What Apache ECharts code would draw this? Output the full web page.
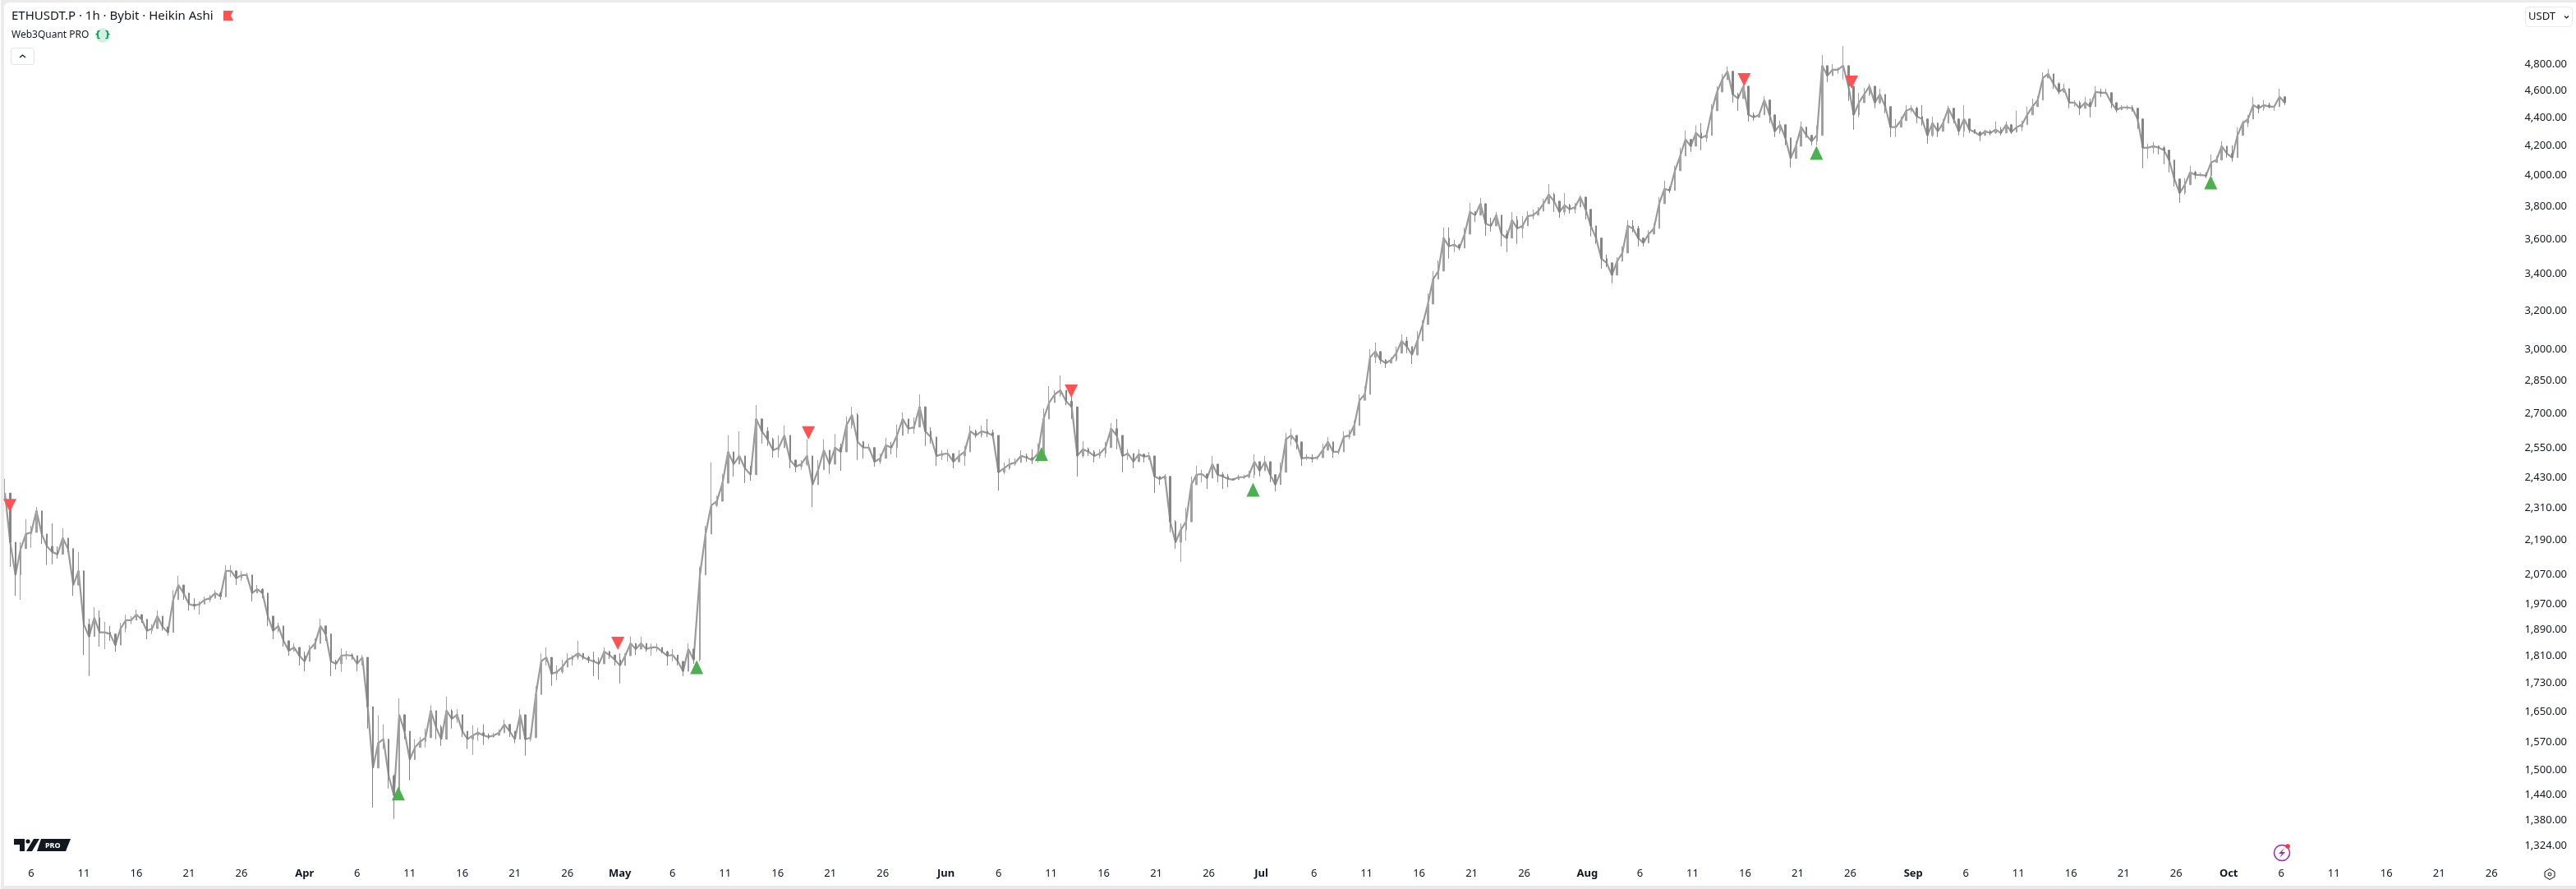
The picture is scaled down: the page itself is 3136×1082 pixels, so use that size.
<!DOCTYPE html>
<html><head><meta charset="utf-8"><title>ETHUSDT.P</title>
<style>html,body{margin:0;padding:0;background:#ebebeb}#c{width:3136px;height:1082px}</style>
<script src="https://cdn.jsdelivr.net/npm/echarts@6/dist/echarts.min.js"></script></head>
<body><div id="c"></div>
<script>
const closes1=[2352,2167,2052,2144,2197,2203,2283,2197,2152,2132,2124,2182,2144,2018,2066,1890,1852,1911,1865,1865,1860,1826,1877,1903,1903,1921,1906,1870,1877,1916,1882,1865,1969,2018,1991,1955,1950,1955,1969,1974,1991,1980,2066,2066,2041,2052,2052,1991,2004,1991,1916,1870,1885,1839,1809,1819,1794,1777,1814,1831,1885,1860,
1777,1770,1794,1796,1794,1770,1789,1648,1488,1551,1561,1468,1422,1626,1582,1509,1540,1555,1565,1637,1593,1561,1637,1615,1626,1582,1561,1571,1578,1571,1567,1571,1578,1600,1582,1561,1626,1561,1565,1682,1777,1789,1741,1746,1760,1782,1789,1801,1789,1782,1777,1770,1806,1796,1782,1765,1794,1831,1814,1831,1814,1819,1819,1806,1794,1796,1777,1748,1814,1782];
const highs1=[2408,2352,2092,2167,2252,2227,2298,2258,2197,2236,2152,2218,2173,2089,2132,1977,1908,1945,1934,1898,1885,1852,1895,1921,1916,1937,1916,1895,1890,1934,1898,1880,2001,2049,2010,1974,1974,1964,1980,1985,2001,1996,2086,2086,2060,2066,2060,2018,2018,2007,1974,1890,1895,1865,1826,1831,1814,1806,1826,1847,1908,1885,
1826,1782,1816,1809,1801,1794,1796,1724,1561,1624,1600,1513,1472,1671,1611,1534,1561,1567,1589,1652,1611,1598,1676,1641,1641,1604,1576,1598,1591,1600,1576,1578,1587,1613,1600,1571,1641,1620,1576,1706,1801,1819,1760,1765,1782,1801,1796,1839,1796,1794,1806,1789,1819,1809,1796,1801,1801,1852,1831,1852,1821,1831,1831,1814,1809,1814,1789,1765,1831,1806];
const lows1=[2330,2080,1982,1969,2161,2147,2242,2161,2086,2089,2109,2144,2132,1982,2024,1796,1734,1865,1821,1814,1839,1806,1852,1865,1890,1903,1895,1844,1860,1885,1870,1855,1921,1991,1969,1934,1937,1921,1955,1961,1974,1969,1977,2046,2018,2032,2038,1964,1991,1974,1885,1844,1865,1821,1794,1806,1765,1748,1789,1821,1834,1839,
1734,1753,1746,1782,1782,1748,1765,1589,1393,1509,1536,1438,1367,1478,1561,1458,1519,1540,1540,1611,1561,1544,1598,1589,1604,1567,1536,1521,1557,1546,1561,1565,1571,1587,1567,1551,1567,1519,1555,1620,1741,1765,1706,1722,1741,1765,1765,1782,1782,1772,1734,1724,1784,1784,1765,1713,1782,1809,1796,1814,1806,1794,1806,1801,1765,1777,1765,1734,1801,1770];
const closes2=[2052,2197,2304,2320,2391,2519,2468,2502,2451,2425,2661,2607,2572,2526,2537,2589,2485,2458,2468,2502,2385,2445,2526,2468,2537,2519,2632,2679,2561,2537,2537,2478,2492,2547,2537,2589,2661,2618,2625,2715,2607,2582,2502,2509,2512,2478,2502,2519,2607,2589,2607,2600,2589,2435,2451,2468,2475,2502,2495,2485,2512,2661,2734,2772,2791,2741,2715,2502,2530,2519,2502,2512,2537,2618,2589,2502,2512];
const highs2=[2080,2227,2475,2342,2428,2589,2519,2607,2485,2461,2723,2650,2625,2579,2589,2632,2544,2475,2485,2572,2435,2485,2572,2495,2596,2554,2672,2715,2686,2565,2554,2509,2512,2579,2561,2636,2690,2643,2668,2772,2661,2625,2519,2526,2530,2509,2526,2544,2632,2614,2632,2661,2614,2554,2475,2492,2492,2526,2512,2530,2554,2708,2810,2791,2861,2764,2761,2625,2565,2537,2526,2530,2561,2643,2661,2544,2530];
const lows2=[1777,2147,2252,2298,2352,2485,2418,2468,2391,2401,2565,2554,2544,2495,2495,2544,2451,2435,2445,2461,2298,2395,2485,2428,2485,2441,2600,2618,2485,2492,2526,2458,2468,2509,2509,2495,2632,2596,2596,2697,2544,2554,2461,2485,2478,2451,2475,2461,2572,2579,2579,2582,2579,2362,2428,2445,2461,2492,2478,2468,2475,2565,2708,2741,2761,2723,2661,2418,2495,2502,2475,2492,2495,2589,2530,2435,2485];
const closes3=[2478,2509,2499,2502,2418,2408,2418,2242,2167,2212,2242,2385,2425,2428,2411,2468,2425,2418,2408,2405,2415,2415,2425,2478,2441,2478,2425,2385,2435,2572,2589,2561,2492,2495,2492,2495,2526,2561,2519,2519,2582,2589,2632,2745,2772,2948,2977,2936,
2920,2936,2969,3030,3002,2961,3030,3114,3222,3358,3404,3596,3547,3557,3537,3620,3756,3736,3808,3685,3670,3736,3620,3596,3705,3655,3670,3730,3736,3761,3808,3866,3824,3756,3798,3772,3787,3850,3772,3670,3596,3475,3451,3381,3460,3508,3670,3655,3596,3567,3620,3655,3808,3903,3893,4023,4123,
4238,4191,4284,4249,4267,4445,4587,4682,4747,4568,4537,4631,4415,4397,4415,4525,4415,4296,4343,4249,4106,4191,4326,4267,4226,4267,4792,4713,4760,4760,4792,4631,4415,4506,4568,4631,4506,4568,4476,
4326,4326,4373,4445,4464,4403,4385,4267,4355,4296,4355,4464,4385,4296,4385,4308,4290,4267,4296,4284,4308,4284,4343,4290,4326,4343,4415,4476,4525,4695,4727,4650,4587,4612,4506,4506,4464,4506,4476,4587,4581,4581,4506,4452,4470,4470,4464,4385,4180,4180,4191,4180,4163,4095,3968,3877,3930,4012,3995,3995,3990,4078,4095,4191,4140,4112,4267,4355,4385,4488,4464,4488,4476,4476,4550,4506];
const highs3=[2495,2530,2512,2519,2495,2418,2428,2289,2248,2236,2295,2418,2461,2445,2428,2502,2441,2435,2428,2411,2425,2425,2441,2509,2475,2502,2451,2395,2475,2600,2618,2582,2537,2509,2509,2502,2554,2582,2554,2530,2607,2614,2654,2772,2810,2989,3022,2961,
2940,2948,3002,3063,3051,3002,3080,3135,3280,3404,3465,3660,3660,3586,3562,3660,3813,3761,3845,3756,3720,3756,3660,3645,3756,3730,3730,3761,3772,3787,3840,3935,3877,3798,3877,3808,3813,3861,3834,3705,3655,3513,3499,3413,3484,3547,3705,3705,3670,3586,3645,3685,3850,3957,3919,4056,4180,
4302,4226,4338,4355,4296,4494,4631,4727,4785,4682,4581,4650,4488,4433,4433,4556,4519,4373,4373,4314,4163,4226,4367,4308,4255,4338,4878,4747,4805,4779,4953,4727,4458,4581,4618,4650,4556,4612,4506,
4445,4385,4403,4488,4488,4476,4488,4338,4403,4326,4385,4482,4427,4326,4488,4326,4302,4296,4308,4308,4367,4326,4367,4308,4445,4373,4476,4537,4556,4740,4766,4682,4663,4650,4537,4525,4519,4550,4537,4631,4612,4612,4537,4476,4488,4488,4488,4464,4314,4208,4220,4197,4191,4151,4012,3941,3974,4056,4023,4012,4012,4134,4123,4226,4180,4197,4326,4373,4415,4550,4488,4525,4506,4488,4612,4525];
const lows3=[2451,2485,2475,2485,2352,2385,2385,2203,2144,2097,2173,2362,2385,2395,2368,2441,2395,2368,2375,2401,2408,2408,2411,2411,2418,2441,2395,2358,2418,2530,2547,2530,2461,2485,2475,2485,2495,2537,2495,2509,2565,2572,2607,2697,2745,2916,2920,2916,
2897,2928,2928,3002,2969,2916,2957,3093,3166,3303,3358,3484,3475,3513,3523,3562,3685,3695,3756,3610,3635,3680,3547,3513,3645,3562,3596,3695,3710,3736,3782,3840,3756,3720,3736,3746,3746,3813,3710,3606,3562,3418,3427,3335,3437,3489,3557,3630,3547,3547,3572,3635,3772,3866,3877,3995,4040,
4180,4151,4220,4163,4220,4314,4537,4618,4708,4506,4445,4537,4367,4373,4397,4476,4355,4255,4278,4197,4045,4106,4278,4249,4197,4197,4682,4663,4727,4727,4682,4519,4308,4397,4519,4556,4464,4494,4427,
4255,4255,4343,4397,4433,4355,4338,4208,4255,4255,4308,4415,4355,4267,4255,4284,4278,4226,4267,4267,4278,4267,4284,4278,4296,4296,4343,4415,4494,4644,4708,4612,4568,4581,4464,4476,4415,4464,4397,4519,4550,4568,4464,4433,4458,4452,4439,4314,4040,4106,4140,4134,4067,4012,3919,3813,3866,3995,3968,3985,3974,4051,4078,4163,4112,4084,4123,4308,4326,4433,4427,4445,4464,4445,4519,4488];
// each run of samples: first sample time (UTC) and spacing in hours
const sampleRuns=[['2025-03-03T12:00Z',12,closes1.length],['2025-05-08T14:24Z',12.857,closes2.length],['2025-06-18T20:00Z',12,closes3.length]];
const redDates=['2025-03-03T23:15Z','2025-04-30T19:00Z','2025-05-18T22:00Z','2025-06-12T22:00Z','2025-08-15T22:00Z','2025-08-26T03:00Z'];
const redPrices=[2304,1831,2600,2787,4682,4663];
const greenDates=['2025-04-09T22:00Z','2025-05-08T07:00Z','2025-06-10T02:00Z','2025-06-30T05:00Z','2025-08-22T19:00Z','2025-09-29T07:00Z'];
const greenPrices=[1426,1760,2510,2365,4145,3946];
const priceTicks=[4800,4600,4400,4200,4000,3800,3600,3400,3200,3000,2850,2700,2550,2430,2310,2190,2070,1970,1890,1810,1730,1650,1570,1500,1440,1380,1324];
const monthNames=['Mar','Apr','May','Jun','Jul','Aug','Sep','Oct'];
const dayTicks=[6,11,16,21,26];

const DAY=864e5, PX_PER_DAY=12.8, MAR6=Date.UTC(2025,2,6);
const GRID_L=5,GRID_R=3047,GRID_T=10,GRID_B=1046;
// The readings above were taken with a hand conversion table that ran slightly low towards the bottom of the price scale; this corrects that reading scale.
const readScale=p=>p*Math.pow(4800/p,0.00937);
const closes=closes1.concat(closes2,closes3).map(readScale), highs=highs1.concat(highs2,highs3).map(readScale), lows=lows1.concat(lows2,lows3).map(readScale);
const times=[]; sampleRuns.forEach(r=>{const s=Date.parse(r[0]);for(let k=0;k<r[2];k++)times.push(s+k*r[1]*36e5);});
const candles=closes.map((c,i)=>[times[i],i?closes[i-1]:c,c,lows[i],highs[i]]);
const tickMap={}, tickValues=[];
monthNames.forEach((m,mi)=>{
  if(mi>0){const t=Date.UTC(2025,2+mi,1);tickMap[t]='{b|'+m+'}';tickValues.push(t);}
  dayTicks.forEach(d=>{const t=Date.UTC(2025,2+mi,d);tickMap[t]=String(d);tickValues.push(t);});
});
const TXT='#131722', FONT='"Noto Sans", sans-serif';
function text(x,y,s,size,o){return {type:'text',silent:true,x:x,y:y,style:Object.assign({text:s,fill:TXT,font:size+'px '+FONT,textVerticalAlign:'middle'},o||{})};}
const chart=echarts.init(document.getElementById('c'),null,{renderer:'canvas'});
chart.setOption({
 animation:false,backgroundColor:'#ebebeb',
 grid:{left:GRID_L,top:GRID_T,width:GRID_R-GRID_L,height:GRID_B-GRID_T,containLabel:false},
 xAxis:{type:'value',scale:true,min:MAR6+(GRID_L-38)/PX_PER_DAY*DAY,max:MAR6+(GRID_R-38)/PX_PER_DAY*DAY,
  axisLine:{show:false},axisTick:{show:false},splitLine:{show:false},
  axisLabel:{customValues:tickValues,hideOverlap:false,margin:11,color:TXT,fontSize:13,fontFamily:FONT,
   formatter:v=>tickMap[v]||'',rich:{b:{fontWeight:'bold',fontSize:13,color:TXT,fontFamily:FONT}}}},
 yAxis:{type:'log',logBase:10,position:'right',min:1293.8,max:5268.5,
  axisLine:{show:false},axisTick:{show:false},splitLine:{show:false},minorSplitLine:{show:false},
  axisLabel:{customValues:priceTicks,hideOverlap:false,align:'right',margin:78,color:TXT,fontSize:13,fontFamily:FONT,
   formatter:v=>Number(v).toLocaleString('en-US',{minimumFractionDigits:2,maximumFractionDigits:2})}},
 series:[
  {type:'line',data:closes.map((c,i)=>[times[i],c]),showSymbol:false,silent:true,lineStyle:{color:'#9a9a9a',width:2.2},z:2},
  {type:'candlestick',data:candles,barWidth:2,silent:true,z:3,itemStyle:{color:'#a8a8a8',color0:'#858585',borderColor:'#a0a0a0',borderColor0:'#858585',borderWidth:1}},
  {type:'scatter',data:redDates.map((d,i)=>[Date.parse(d),readScale(redPrices[i])]),symbol:'triangle',symbolRotate:180,symbolSize:[16,16],clip:false,silent:true,z:5,itemStyle:{color:'#ff5252',opacity:1}},
  {type:'scatter',data:greenDates.map((d,i)=>[Date.parse(d),readScale(greenPrices[i])]),symbol:'triangle',symbolSize:[16,17],clip:false,silent:true,z:5,itemStyle:{color:'#4caf50',opacity:1}}
 ],
 graphic:[
  {type:'rect',z:-10,silent:true,shape:{x:5,y:3,width:3131,height:1075,r:[6,0,0,0]},style:{fill:'#ffffff'}},
  {type:'rect',z:-10,silent:true,shape:{x:0,y:0,width:1,height:1082},style:{fill:'#ffffff'}},
  text(14,20,'ETHUSDT.P · 1h · Bybit · Heikin Ashi',15),
  {type:'polygon',silent:true,shape:{points:[[272,13],[284,13],[281,19],[284,25],[272,25]]},style:{fill:'#ff5252'}},
  text(14,43,'Web3Quant PRO',12),
  {type:'circle',silent:true,shape:{cx:125,cy:43,r:9},style:{fill:'#d5f0e3'}},
  text(125,42.5,'{ }',11,{fill:'#089950',font:'bold 11px "DejaVu Sans"',textAlign:'center'}),
  {type:'rect',silent:true,shape:{x:13.5,y:58.5,width:28,height:20,r:3},style:{fill:'#fff',stroke:'#e0e3eb',lineWidth:1}},
  {type:'polyline',silent:true,shape:{points:[[24,70],[27.5,67],[31,70]]},style:{stroke:'#131722',lineWidth:1.3,fill:null}},
  {type:'rect',silent:true,shape:{x:3074.5,y:8.5,width:57,height:24,r:4},style:{fill:'#fff',stroke:'#e8e9ed',lineWidth:1}},
  text(3078,20,'USDT',13),
  {type:'polyline',silent:true,shape:{points:[[3122,19.5],[3124.5,22],[3127,19.5]]},style:{stroke:'#131722',lineWidth:1.2,fill:null}},
  {type:'polygon',silent:true,shape:{points:[[17,1021],[30,1021],[30,1036],[24,1036],[24,1028],[17,1028]]},style:{fill:'#131722'}},
  {type:'circle',silent:true,shape:{cx:34,cy:1024,r:2.6},style:{fill:'#131722'}},
  {type:'polygon',silent:true,shape:{points:[[41,1021],[48,1021],[39,1036],[32,1036]]},style:{fill:'#131722'}},
  {type:'polygon',silent:true,shape:{points:[[50,1021],[86,1021],[80,1036],[45,1036]]},style:{fill:'#131722'}},
  text(55,1029,'PRO',9,{fill:'#fff',font:'bold 9px '+FONT}),
  {type:'polygon',silent:true,shape:{points:[[3104,1057.5],[3110,1061],[3110,1067],[3104,1070.5],[3098,1067],[3098,1061]]},style:{stroke:'#131722',fill:'none',lineWidth:1}},
  {type:'circle',silent:true,shape:{cx:3104,cy:1064,r:2},style:{stroke:'#131722',fill:'none',lineWidth:1}},
  {type:'circle',silent:true,shape:{cx:2778,cy:1038,r:9.5},style:{stroke:'#9c27b0',fill:'#fff',lineWidth:1.5}},
  {type:'polygon',silent:true,shape:{points:[[2781,1032],[2774,1039],[2778,1039],[2775,1044],[2782,1037],[2778,1037]]},style:{fill:'#9c27b0'}},
  {type:'circle',silent:true,shape:{cx:2785,cy:1030,r:2.8},style:{fill:'#f23645'}}
 ]
});
</script></body></html>
